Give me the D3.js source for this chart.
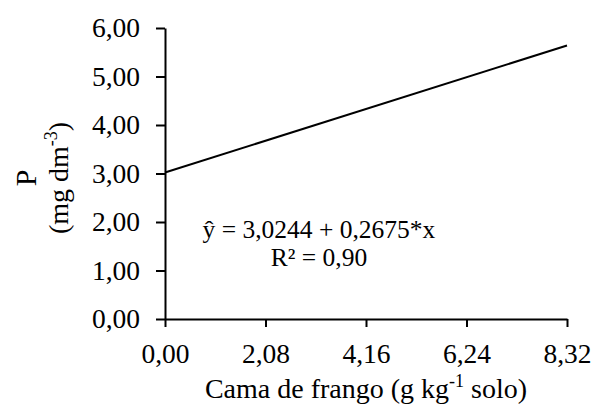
<!DOCTYPE html>
<html>
<head>
<meta charset="utf-8">
<script src="https://cdn.jsdelivr.net/npm/d3@7"></script>
</head>
<body style="margin:0; background:#fff">
<svg id="chart" width="593" height="405"></svg>
<script>
// fitted line endpoints
var doses = [0, 8.32];
var pValues = [3.02, 5.64];
var xTicks = [0, 2.08, 4.16, 6.24, 8.32];
var yTicks = [0, 1, 2, 3, 4, 5, 6];
var equationLines = ['ŷ = 3,0244 + 0,2675*x', 'R² = 0,90'];

var FONT = 'Liberation Serif';
var width = 593, height = 405;
var margin = {top: 28, right: 26, bottom: 86, left: 165};

var svg = d3.select('#chart');
var x = d3.scaleLinear().domain([0, 8.32]).range([margin.left, width - margin.right]);
var y = d3.scaleLinear().domain([0, 6]).range([height - margin.bottom, margin.top]);

var comma = function(d) { return d3.format('.2f')(d).replace('.', ','); };

var xAxis = svg.append('g')
    .attr('transform', 'translate(0,' + y(0) + ')')
    .call(d3.axisBottom(x).tickValues(xTicks).tickFormat(comma).tickSize(8).tickSizeOuter(0).tickPadding(16));

var yAxis = svg.append('g')
    .attr('transform', 'translate(' + x(0) + ',0)')
    .call(d3.axisLeft(y).tickValues(yTicks).tickFormat(comma).tickSize(9).tickSizeOuter(0).tickPadding(16));

[xAxis, yAxis].forEach(function(g) {
    g.attr('font-family', FONT).attr('font-size', 27.5);
    g.selectAll('path, line').attr('stroke', '#000').attr('stroke-width', 2);
    g.selectAll('text').attr('fill', '#000');
});

// regression line
var pts = doses.map(function(d, i) { return [d, pValues[i]]; });
svg.append('path')
    .datum(pts)
    .attr('fill', 'none')
    .attr('stroke', '#000')
    .attr('stroke-width', 2)
    .attr('d', d3.line().x(function(d) { return x(d[0]); }).y(function(d) { return y(d[1]); }));

// equation
svg.selectAll('.eq')
    .data(equationLines)
    .enter().append('text')
    .attr('class', 'eq')
    .attr('x', 319)
    .attr('y', function(d, i) { return 238 + i * 28; })
    .attr('text-anchor', 'middle')
    .attr('font-family', FONT)
    .attr('font-size', 25.5)
    .text(function(d) { return d; });

// x title
var xt = svg.append('text')
    .attr('x', (x.range()[0] + x.range()[1]) / 2)
    .attr('y', 398)
    .attr('text-anchor', 'middle')
    .attr('font-family', FONT)
    .attr('font-size', 28);
xt.append('tspan').text('Cama de frango (g kg');
xt.append('tspan').attr('font-size', 18).attr('dy', -11).text('-1');
xt.append('tspan').attr('dy', 11).text(' solo)');

// y title
var yt = svg.append('g').attr('transform', 'translate(0,178) rotate(-90)');
yt.append('text')
    .attr('x', 0).attr('y', 36)
    .attr('text-anchor', 'middle')
    .attr('font-family', FONT)
    .attr('font-size', 30)
    .text('P');
var yt2 = yt.append('text')
    .attr('x', 0).attr('y', 68)
    .attr('text-anchor', 'middle')
    .attr('font-family', FONT)
    .attr('font-size', 28);
yt2.append('tspan').text('(mg dm');
yt2.append('tspan').attr('font-size', 18).attr('dy', -11).text('-3');
yt2.append('tspan').attr('dy', 11).text(')');
</script>
</body>
</html>
